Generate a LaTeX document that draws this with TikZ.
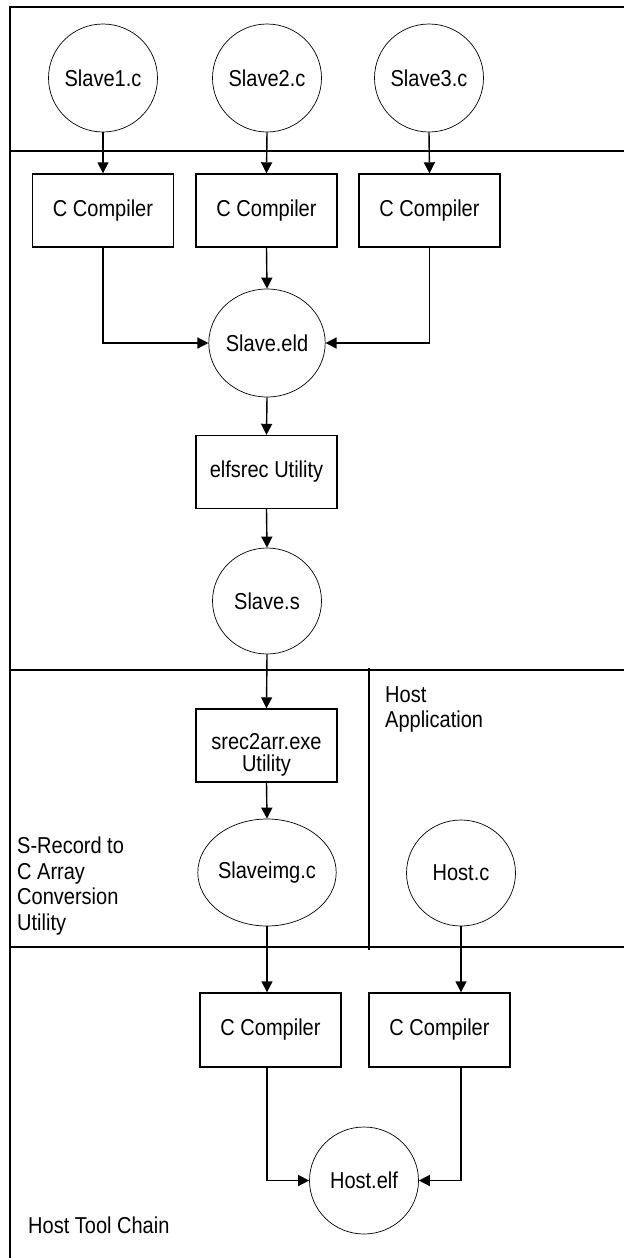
\documentclass[tikz,border=0pt]{standalone}
\usepackage{fontspec}
\setmainfont{Liberation Sans}[FakeStretch=0.87]
\usetikzlibrary{shapes.geometric,arrows.meta}
\begin{document}
\begin{tikzpicture}[x=1pt,y=-1pt,
  every node/.style={font=\fontsize{23}{25.5}\selectfont},
  file/.style={draw,ellipse,line width=0.7pt,minimum width=109pt,minimum height=108pt,inner sep=0pt},
  tool/.style={draw,rectangle,line width=1.4pt,minimum width=141pt,minimum height=73pt,inner sep=0pt,align=center},
  frame/.style={line width=1.4pt},
  arr/.style={line width=1.4pt,-{Triangle[length=11pt,width=11pt]}},
  lbl/.style={inner sep=0pt,align=left}]
\useasboundingbox (0,0) rectangle (624,1258);
% frame
\draw[frame] (624,7) -- (10,7) -- (10,1258);
\draw[frame] (10,151) -- (624,151);
\draw[frame] (10,670) -- (624,670);
\draw[frame] (10,947) -- (624,947);
\draw[frame] (369,668) -- (369,950);
% nodes
\node[file] (s1) at (103,78) {Slave1.c};
\node[file] (s2) at (267,78) {Slave2.c};
\node[file] (s3) at (429,78) {Slave3.c};
\node[tool] (c1) at (103,210.5) {C Compiler};
\node[tool] (c2) at (266.5,210.5) {C Compiler};
\node[tool] (c3) at (429.5,210.5) {C Compiler};
\node[file] (eld) at (267,343) {Slave.eld};
\node[tool] (elf) at (266.5,472) {elfsrec Utility};
\node[file,minimum height=106pt] (ss) at (267,601) {Slave.s};
\node[tool] (srec) at (266.5,745.5) {\raisebox{-26pt}[0pt][0pt]{\begin{tabular}[b]{@{}c@{}}srec2arr.exe\\[-3.5pt]Utility\end{tabular}}};
\node[file,minimum width=120pt,minimum height=107pt] (img) at (267,872.5) {Slaveimg.c};
\node[file,minimum height=106pt] (hostc) at (461,873) {Host.c};
\node[tool,minimum height=74pt] (hc1) at (270.5,1030) {C Compiler};
\node[tool,minimum height=74pt] (hc2) at (439.5,1030) {C Compiler};
\node[file,minimum height=107pt] (helf) at (364,1180.5) {Host.elf};
% labels
\node[lbl,anchor=north west] (hostapp) at (385,686) {Host\\Application};
\node[lbl,anchor=north west] (srecl) at (17,837) {S-Record to\\C Array\\Conversion\\Utility};
\node[lbl,anchor=base west] (htc) at (28,1233) {Host Tool Chain};
% connectors
\draw[arr] (s1.south) -- (c1.north);
\draw[arr] (s2.south) -- (c2.north);
\draw[arr] (s3.south) -- (c3.north);
\draw[arr] (c1.south) |- (eld.west);
\draw[arr] (c2.south) -- (eld.north);
\draw[arr] (c3.south) |- (eld.east);
\draw[arr] (eld.south) -- (elf.north);
\draw[arr] (elf.south) -- (ss.north);
\draw[arr] (ss.south) -- (srec.north);
\draw[arr] (srec.south) -- (img.north);
\draw[arr] (img.south) -- (img.south |- hc1.north);
\draw[arr] (hostc.south) -- (hostc.south |- hc2.north);
\draw[arr] (img.south |- hc1.south) |- (helf.west);
\draw[arr] (hostc.south |- hc2.south) |- (helf.east);
\end{tikzpicture}
\end{document}
